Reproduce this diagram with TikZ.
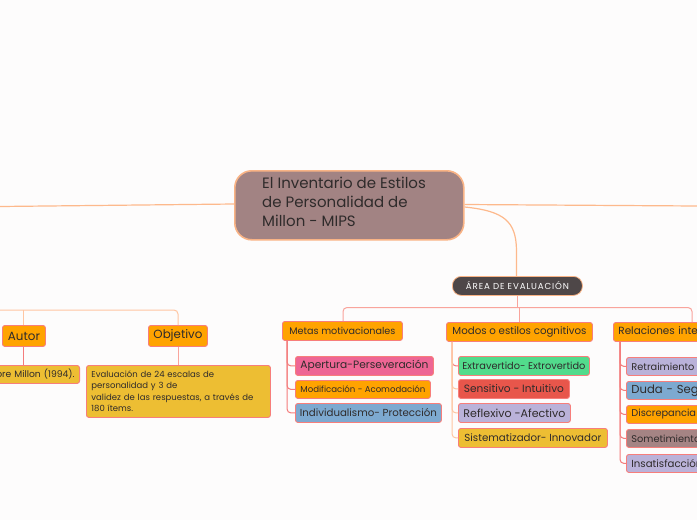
\documentclass[tikz,border=0pt]{standalone}
\usepackage{fontspec}
\setmainfont{Poppins}
\usetikzlibrary{calc}
\definecolor{bg}{HTML}{FDFCFC}
\definecolor{cfill}{HTML}{A28383}
\definecolor{cborder}{HTML}{F9B385}
\definecolor{mainline}{HTML}{FDB98C}
\definecolor{areafill}{HTML}{4E4748}
\definecolor{orng}{HTML}{FFA300}
\definecolor{bborder}{HTML}{F77E7B}
\definecolor{salmon}{HTML}{F9A49C}
\definecolor{redline}{HTML}{F47C7C}
\definecolor{peach}{HTML}{FFC6A2}
\definecolor{pinkf}{HTML}{EE6694}
\definecolor{bluef}{HTML}{7DA9D0}
\definecolor{greenf}{HTML}{52DB8C}
\definecolor{redf}{HTML}{E8564B}
\definecolor{lavf}{HTML}{BAB2D9}
\definecolor{goldf}{HTML}{EDBE33}
\definecolor{mauvef}{HTML}{A58484}
\definecolor{txt}{HTML}{2F2B2B}
\newcommand{\fitto}[2]{\resizebox{#1pt}{!}{#2}}
\tikzset{
  box/.style={draw=bborder, line width=0.9pt, rounded corners=2.5pt, anchor=north west,
    inner xsep=0pt, inner ysep=0pt, text=txt, font=\fontsize{10}{12}\selectfont},
  lbox/.style={box, inner xsep=5pt, align=left},
  conn/.style={line width=1pt, rounded corners=4pt},
}
\begin{document}
\begin{tikzpicture}[x=1pt,y=-1pt]
\fill[bg] (0,0) rectangle (697,520);
\useasboundingbox (0,0) rectangle (697,520);
\clip (0,0) rectangle (697,520);
% central
\node[draw=cborder, line width=1.6pt, fill=cfill, rounded corners=17pt, anchor=north west,
  minimum width=229pt, minimum height=69pt, inner sep=0pt] (c) at (234,170) {};
\node[anchor=north west, text=txt, font=\fontsize{15}{19}\selectfont, align=left, inner sep=0pt] (ctext) at (262,176.5)
  {El Inventario de Estilos\\de Personalidad de\\Millon - MIPS};
\coordinate (leftend) at (0,206.5);
\coordinate (rightend) at (697,206);
\draw[mainline, line width=1.2pt] (c.west |- 0,204) -- (leftend);
\draw[mainline, line width=1.2pt] (c.east |- 0,204.5) -- (rightend);
% area
\node[draw=cborder, line width=0.8pt, fill=areafill, rounded corners=9pt, anchor=north west,
  minimum width=130pt, minimum height=19pt, inner sep=0pt, text=white,
  font=\fontsize{7.6}{9}\selectfont\addfontfeatures{LetterSpace=10}] (area) at (452,276) {\fitto{103}{ÁREA DE EVALUACIÓN}};
\draw[mainline, line width=1.2pt] (c.east |- 0,207) .. controls (505,211) and (516,222) .. (516.5,250) -- (area.north -| 516.5,0);
% level 1 right
\node[box, fill=orng, minimum width=120pt, minimum height=19pt] (metas) at (282,321) {\fitto{106}{Metas motivacionales}};
\node[box, fill=orng, minimum width=146pt, minimum height=19pt] (modos) at (446,322) {\fitto{134}{Modos o estilos cognitivos}};
\node[lbox, fill=orng, minimum height=19pt, text width=160pt, font=\fontsize{10.4}{12}\selectfont] (relac) at (613,322) {Relaciones interpersonales};
\draw[salmon, conn] (area.south -| 517,0) -- (517,307.5);
\draw[salmon, conn] (metas.north -| 343,0) |- (692,307.5) -- (692,322);
\draw[salmon, conn] (519,307.5) -- (modos.north -| 519,0);
% metas children
\node[box, fill=pinkf, minimum width=138pt, minimum height=19pt] (apert) at (295,356) {\fitto{128}{Apertura-Perseveración}};
\node[box, fill=orng, minimum width=135pt, minimum height=18pt] (modif) at (295,380) {\fitto{125}{Modificación - Acomodación}};
\node[box, fill=bluef, minimum width=146pt, minimum height=19pt] (indiv) at (295,403) {\fitto{137}{Individualismo- Protección}};
\foreach \n in {apert,modif,indiv}
  \draw[redline, conn] ($(metas.south west)+(5,0)$) |- (\n.west);
% modos children
\node[box, fill=greenf, minimum width=131pt, minimum height=19pt] (extra) at (458,356) {\fitto{123}{Extravertido- Extrovertido}};
\node[box, fill=redf, minimum width=111pt, minimum height=19pt] (sensi) at (458,379) {\fitto{100}{Sensitivo - Intuitivo}};
\node[box, fill=lavf, minimum width=112pt, minimum height=19pt] (refle) at (458,403) {\fitto{102}{Reflexivo -Afectivo}};
\node[box, fill=goldf, minimum width=149pt, minimum height=19pt] (siste) at (458,428) {\fitto{137}{Sistematizador- Innovador}};
\draw[redline, conn] ($(modos.south west)+(6,0)$) |- (extra.west);
\foreach \n in {sensi,refle,siste}
  \draw[peach, conn] ($(modos.south west)+(6,0)$) |- (\n.west);
% relaciones children
\node[lbox, fill=lavf, minimum height=18pt, text width=200pt, font=\fontsize{9.8}{12}\selectfont] (retra) at (626,357) {Retraimiento - Comunicatividad};
\node[lbox, fill=bluef, minimum height=18pt, text width=200pt, font=\fontsize{11.6}{14}\selectfont] (duda) at (626,381) {Duda - Seguridad};
\node[lbox, fill=orng, minimum height=18pt, text width=200pt, font=\fontsize{9.8}{12}\selectfont] (discr) at (626,405) {Discrepancia - Conformismo};
\node[lbox, fill=mauvef, minimum height=18pt, text width=200pt, font=\fontsize{9.8}{12}\selectfont] (somet) at (626,429) {Sometimiento - Control};
\node[lbox, fill=lavf, minimum height=18pt, text width=200pt, font=\fontsize{10.2}{12}\selectfont] (insat) at (626,454) {Insatisfacción - Concordancia};
\foreach \n in {retra,duda,discr,somet,insat}
  \draw[redline, conn] ($(relac.south west)+(7,0)$) |- (\n.west);
% left side
\node[box, fill=orng, minimum width=43pt, minimum height=21pt] (autor) at (2,325) {\fitto{32}{Autor}};
\node[box, fill=orng, minimum width=59pt, minimum height=21pt] (objet) at (148,325) {\fitto{49}{Objetivo}};
\coordinate (leftend2) at (0,310);
\draw[peach, conn] (leftend2) -| (objet.north -| 178,0);
\draw[peach, conn] (23,310) -- (autor.north -| 23,0);
\node[lbox, fill=goldf, anchor=north east, minimum height=18pt, text width=150pt, align=right,
  font=\fontsize{9.2}{10}\selectfont] (autorc) at (80,365) {Theodore Millon (1994).};
\node[lbox, fill=goldf, minimum height=52pt, text width=174pt, font=\fontsize{8.5}{11.5}\selectfont] (objc) at (86,365)
  {Evaluación de 24 escalas de\\personalidad y 3 de\\validez de las respuestas, a través de\\180 ítems.};
\draw[redline, line width=1pt] (autor.south -| 23,0) -- (autorc.north -| 23,0);
\draw[salmon, line width=1pt] (objet.south -| 178,0) -- (objc.north -| 178,0);
\end{tikzpicture}
\end{document}
